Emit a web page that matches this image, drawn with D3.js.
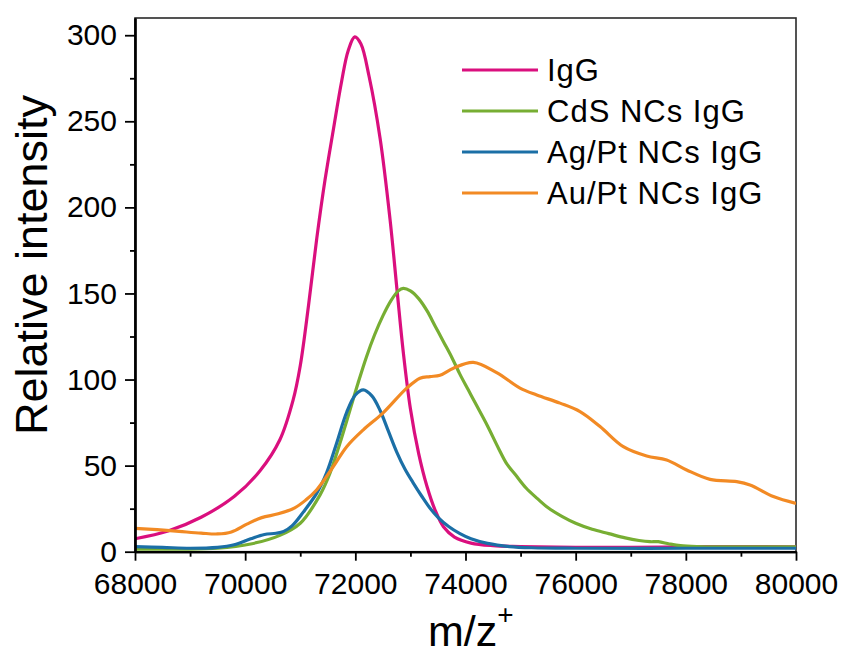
<!DOCTYPE html>
<html>
<head>
<meta charset="utf-8">
<script src="https://cdn.jsdelivr.net/npm/d3@7"></script>
<style>
  html, body { margin: 0; padding: 0; background: #fff; }
  svg { display: block; }
  text { font-family: "Liberation Sans", Arial, sans-serif; fill: #000; }
</style>
</head>
<body>
<svg id="chart" width="841" height="654"></svg>
<script>
// ---- data (m/z, relative intensity) ----
const seriesNames = ["IgG", "CdS NCs IgG", "Ag/Pt NCs IgG", "Au/Pt NCs IgG"];
const seriesColors = ["#DA0F7E", "#77AE33", "#1B6FA6", "#F28A24"];

const igG = [[68000,7.5],[68600,12],[69200,20],[69800,32],[70270,47],[70630,65],[70870,88],[71000,108],[71150,143],[71300,182],[71450,216],[71600,245],[71750,273],[71870,291],[71990,299],[72100,295],[72250,276],[72450,240],[72630,193],[72760,151],[72870,116],[73000,83],[73150,57],[73300,38],[73450,24],[73600,14.5],[73800,8.5],[74100,5],[74500,3.5],[75000,3],[76000,2.5],[77000,2.5],[78000,2.8],[79000,3],[80000,2.8]];

const cdsIgG = [[68000,1.5],[68800,1.5],[69500,2],[70100,4.5],[70630,9.5],[71000,16.5],[71360,33],[71540,45.6],[71720,63],[71900,82],[72050,98],[72200,113],[72350,126],[72500,137],[72650,146],[72780,151.5],[72870,153],[73000,151.5],[73150,147],[73300,140],[73450,131],[73600,122],[73750,113],[73900,103],[74050,94],[74200,85],[74400,73],[74600,60],[74750,51],[74900,45],[75100,37],[75300,31],[75500,25.5],[75750,20.5],[76000,16.5],[76300,13],[76600,10.5],[76900,8],[77150,6.5],[77350,5.8],[77500,5.8],[77700,4.5],[77900,3.5],[78200,3],[79000,2.8],[80000,2.8]];

const agptIgG = [[68000,2.9],[68500,2.5],[69000,2],[69500,2.5],[69800,4],[70100,7.5],[70350,10],[70560,10.7],[70700,11.8],[70850,15],[71055,23],[71300,34],[71480,46],[71660,63],[71843,81],[72000,91],[72145,94],[72300,90.5],[72450,82],[72600,70],[72750,58],[72900,48],[73050,40],[73200,32.5],[73350,25.5],[73500,20],[73700,14.5],[73900,10.5],[74100,7.5],[74400,4.8],[74800,3],[75200,2.3],[76000,2],[78000,2],[80000,2]];

const auptIgG = [[68000,13.6],[68400,12.8],[68800,11.8],[69200,10.8],[69500,10.3],[69750,11.5],[70030,16],[70300,19.8],[70600,22],[70900,25.5],[71100,30],[71300,36],[71600,49.4],[71843,61],[72145,70.8],[72500,80.5],[72933,95],[73174,100.8],[73356,101.7],[73537,102.5],[73780,106.6],[74142,110],[74566,104],[74990,95],[75293,91],[75716,86.3],[76079,81.4],[76442,72.7],[76865,61],[77289,55.6],[77652,53.3],[78015,47.5],[78439,42],[78924,40.7],[79165,38.8],[79589,32],[80000,28]];

const xMajorTicks = [68000, 70000, 72000, 74000, 76000, 78000, 80000];
const xMinorTicks = [69000, 71000, 73000, 75000, 77000, 79000];
const yMajorTicks = [0, 50, 100, 150, 200, 250, 300];
const yMinorTicks = [25, 75, 125, 175, 225, 275];

const allSeries = [igG, cdsIgG, agptIgG, auptIgG];

// ---- drawing ----
const svg = d3.select("#chart");
const L = 135, R = 796, T = 18, B = 551.7;

const x = d3.scaleLinear().domain([68000, 80000]).range([L, R]);
const y = d3.scaleLinear().domain([0, 310]).range([B, T]);

svg.append("rect").attr("width", 841).attr("height", 654).attr("fill", "#fff");

// frame
svg.append("rect")
  .attr("x", L).attr("y", T).attr("width", R - L).attr("height", B - T)
  .attr("fill", "none").attr("stroke", "#2a2a2a").attr("stroke-width", 1.6);

// lines
svg.append("defs").append("clipPath").attr("id", "clip")
  .append("rect").attr("x", L).attr("y", T).attr("width", R - L).attr("height", B - T);

const line = d3.line().x(d => x(d[0])).y(d => y(d[1])).curve(d3.curveCatmullRom.alpha(0.5));
const g = svg.append("g").attr("clip-path", "url(#clip)");
allSeries.forEach((s, i) => {
  g.append("path").datum(s)
    .attr("d", line)
    .attr("fill", "none")
    .attr("stroke", seriesColors[i])
    .attr("stroke-width", 3.2)
    .attr("stroke-linejoin", "round");
});

// axes
function styleAxis(sel) {
  sel.select(".domain").attr("stroke", "#000").attr("stroke-width", 2.2);
  sel.selectAll(".tick line").attr("stroke", "#000").attr("stroke-width", 1.8);
  sel.selectAll(".tick text").attr("font-size", 30)
    .attr("font-family", "'Liberation Sans', Arial, sans-serif").attr("fill", "#000");
}

svg.append("g").attr("transform", `translate(0,${B})`)
  .call(d3.axisBottom(x).tickValues(xMinorTicks).tickSize(5).tickSizeOuter(0).tickFormat(""))
  .call(styleAxis);
svg.append("g").attr("transform", `translate(${L},0)`)
  .call(d3.axisLeft(y).tickValues(yMinorTicks).tickSize(5).tickSizeOuter(0).tickFormat(""))
  .call(styleAxis);

svg.append("g").attr("transform", `translate(0,${B})`)
  .call(d3.axisBottom(x).tickValues(xMajorTicks).tickSize(9).tickSizeOuter(0).tickPadding(12).tickFormat(d3.format("d")))
  .call(styleAxis);
svg.append("g").attr("transform", `translate(${L},0)`)
  .call(d3.axisLeft(y).tickValues(yMajorTicks).tickSize(10).tickSizeOuter(0).tickPadding(8).tickFormat(d3.format("d")))
  .call(styleAxis);

// axis titles
svg.append("text")
  .attr("transform", "translate(47,265) rotate(-90)")
  .attr("text-anchor", "middle")
  .attr("font-size", 45)
  .text("Relative intensity");

const xt = svg.append("text").attr("x", 428).attr("y", 646).attr("font-size", 43);
xt.append("tspan").text("m/z");
xt.append("tspan").attr("font-size", 28).attr("dy", -22).text("+");

// legend
const legY = [70, 111, 152, 193];
seriesNames.forEach((name, i) => {
  svg.append("line")
    .attr("x1", 462).attr("x2", 538)
    .attr("y1", legY[i]).attr("y2", legY[i])
    .attr("stroke", seriesColors[i]).attr("stroke-width", 3);
  svg.append("text")
    .attr("x", 547).attr("y", legY[i] + 11)
    .attr("font-size", 31)
    .attr("letter-spacing", 1)
    .text(name);
});
</script>
</body>
</html>
